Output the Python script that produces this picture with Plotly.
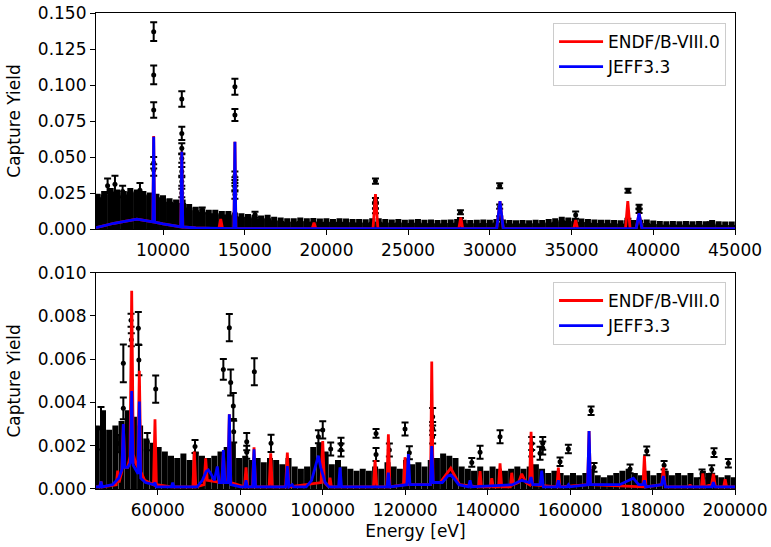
import plotly.graph_objects as go

# ---------------- TOP PANEL (5.9 keV - 45 keV) ----------------
# dense low-statistics data (yield, uncertainty)
top_bg_E = [6000, 6400, 6800, 7200, 7600, 8000, 8400, 8800, 9200, 9600,
            10000, 10400, 10800, 11200, 11600, 12000, 12400, 12800, 13200, 13600,
            14000, 14400, 14800, 15200, 15600, 16000, 16400, 16800, 17200, 17600,
            18000, 18400, 18800, 19200, 19600, 20000, 20400, 20800, 21200, 21600,
            22000, 22400, 22800, 23200, 23600, 24000, 24400, 24800, 25200, 25600,
            26000, 26400, 26800, 27200, 27600, 28000, 28400, 28800, 29200, 29600,
            30000, 30400, 30800, 31200, 31600, 32000, 32400, 32800, 33200, 33600,
            34000, 34400, 34800, 35200, 35600, 36000, 36400, 36800, 37200, 37600,
            38000, 38400, 38800, 39200, 39600, 40000, 40400, 40800, 41200, 41600,
            42000, 42400, 42800, 43200, 43600, 44000, 44400, 44800]
top_bg_Y = [0.011, 0.012, 0.013, 0.0125, 0.012, 0.013, 0.0125, 0.012, 0.0115, 0.011,
            0.0105, 0.0095, 0.009, 0.009, 0.0075, 0.0065, 0.006, 0.0055, 0.0055, 0.005,
            0.005, 0.0045, 0.00425, 0.004, 0.00375, 0.0035, 0.00375, 0.003, 0.00275, 0.0025,
            0.0025, 0.00275, 0.0025, 0.0026, 0.0024, 0.0025, 0.00225, 0.0025, 0.0024, 0.00225,
            0.0023, 0.0022, 0.0025, 0.0025, 0.00225, 0.0021, 0.00225, 0.002, 0.0021, 0.00225,
            0.002, 0.0021, 0.0019, 0.002, 0.0021, 0.00225, 0.002, 0.0019, 0.002, 0.0021,
            0.002, 0.00225, 0.0021, 0.0019, 0.0018, 0.0019, 0.0018, 0.002, 0.0019, 0.00225,
            0.0025, 0.003, 0.00275, 0.0025, 0.0024, 0.00225, 0.0021, 0.002, 0.002, 0.0019,
            0.0018, 0.002, 0.0019, 0.002, 0.0021, 0.00175, 0.0016, 0.0015, 0.0016, 0.0015,
            0.00155, 0.0015, 0.0016, 0.0015, 0.0019, 0.0015, 0.0014, 0.0014]
top_bg_err = [0.011, 0.012, 0.013, 0.0125, 0.012, 0.013, 0.0125, 0.012, 0.0115, 0.011,
              0.0105, 0.0095, 0.009, 0.009, 0.0075, 0.0065, 0.006, 0.0055, 0.0055, 0.005,
              0.005, 0.0045, 0.00425, 0.004, 0.00375, 0.0035, 0.00375, 0.003, 0.00275, 0.0025,
              0.0025, 0.00275, 0.0025, 0.0026, 0.0024, 0.0025, 0.00225, 0.0025, 0.0024, 0.00225,
              0.0023, 0.0022, 0.0025, 0.0025, 0.00225, 0.0021, 0.00225, 0.002, 0.0021, 0.00225,
              0.002, 0.0021, 0.0019, 0.002, 0.0021, 0.00225, 0.002, 0.0019, 0.002, 0.0021,
              0.002, 0.00225, 0.0021, 0.0019, 0.0018, 0.0019, 0.0018, 0.002, 0.0019, 0.00225,
              0.0025, 0.003, 0.00275, 0.0025, 0.0024, 0.00225, 0.0021, 0.002, 0.002, 0.0019,
              0.0018, 0.002, 0.0019, 0.002, 0.0021, 0.00175, 0.0016, 0.0015, 0.0016, 0.0015,
              0.00155, 0.0015, 0.0016, 0.0015, 0.0019, 0.0015, 0.0014, 0.0014]

# resolved data points
top_pt_E = [6610, 7060, 7530, 8590, 12400, 15630,
            9430, 9430, 9430, 9430, 9430,
            11150, 11150, 11150, 11150, 11150, 11150, 11150,
            14400, 14400, 14400, 14400, 14400, 14400,
            23000, 23000, 23000, 23000,
            28200, 28200, 30600, 30600, 30600, 35250,
            38450, 38450, 39130, 39130, 43480]
top_pt_Y = [0.030, 0.031, 0.026, 0.027, 0.013, 0.010,
            0.137, 0.107, 0.0826, 0.046, 0.041,
            0.0903, 0.0664, 0.056, 0.049, 0.040, 0.033, 0.025,
            0.0988, 0.0792, 0.037, 0.033, 0.029, 0.024,
            0.0333, 0.020, 0.016, 0.0125,
            0.0116, 0.0065, 0.030, 0.0155, 0.0075, 0.0097,
            0.0266, 0.0060, 0.0155, 0.0125, 0.0035]
top_pt_err = [0.005, 0.006, 0.004, 0.005, 0.002, 0.002,
              0.0065, 0.0065, 0.0054, 0.004, 0.004,
              0.0054, 0.0046, 0.0035, 0.003, 0.003, 0.003, 0.003,
              0.0055, 0.0042, 0.003, 0.003, 0.003, 0.003,
              0.0018, 0.0015, 0.0015, 0.0015,
              0.0014, 0.0012, 0.0017, 0.0015, 0.0013, 0.0025,
              0.0014, 0.0012, 0.0013, 0.0013, 0.0012]

# evaluations
jeff_hi_E = [5900, 7000, 8400, 9300, 9380, 9430, 9480, 10000, 11000, 11090, 11150, 11210,
             12000, 13000, 14340, 14400, 14460, 20000, 30420, 30620, 30820,
             38950, 39130, 39310, 45000]
jeff_hi_Y = [0.0010, 0.0040, 0.0068, 0.0052, 0.0050, 0.0640, 0.0048, 0.0035, 0.0016, 0.0015, 0.0537, 0.0014,
             0.0007, 0.0004, 0.0003, 0.0606, 0.0003, 0.0002, 0.0002, 0.0194, 0.0002,
             0.0002, 0.0109, 0.0002, 0.0002]
endf_hi_E = [5900, 7000, 8400, 9300, 9380, 9430, 9480, 10000, 11000, 11090, 11150, 11210,
             12000, 13000, 13420, 13530, 13640, 14340, 14400, 14460, 19130, 19240, 19350,
             22850, 23000, 23150, 28100, 28220, 28340, 30420, 30620, 30820,
             35130, 35250, 35370, 38300, 38440, 38580, 38950, 39130, 39310, 45000]
endf_hi_Y = [0.0010, 0.0040, 0.0068, 0.0052, 0.0050, 0.0645, 0.0048, 0.0035, 0.0016, 0.0015, 0.0537, 0.0014,
             0.0007, 0.0004, 0.0003, 0.0070, 0.0003, 0.0003, 0.0606, 0.0003, 0.0002, 0.0045, 0.0002,
             0.0002, 0.0243, 0.0002, 0.0002, 0.0080, 0.0002, 0.0002, 0.0194, 0.0002,
             0.0002, 0.0062, 0.0002, 0.0002, 0.0194, 0.0002, 0.0002, 0.0109, 0.0002, 0.0002]

# ---------------- BOTTOM PANEL (45 keV - 200 keV) ----------------
low_bg_E = [45200, 46700, 48200, 49700, 51200, 52700, 54200, 55700, 57200, 58700,
            60200, 61700, 63200, 64700, 66200, 67700, 69200, 70700, 72200, 73700,
            75200, 76700, 78200, 79700, 81200, 82700, 84200, 85700, 87200, 88700,
            90200, 91700, 93200, 94700, 96200, 97700, 99200, 100700, 102200, 103700,
            105200, 106700, 108200, 109700, 111200, 112700, 114200, 115700, 117200, 118700,
            120200, 121700, 123200, 124700, 126200, 127700, 129200, 130700, 132200, 133700,
            135200, 136700, 138200, 139700, 141200, 142700, 144200, 145700, 147200, 148700,
            150200, 151700, 153200, 154700, 156200, 157700, 159200, 160700, 162200, 163700,
            165200, 166700, 168200, 169700, 171200, 172700, 174200, 175700, 177200, 178700,
            180200, 181700, 183200, 184700, 186200, 187700, 189200, 190700, 192200, 193700,
            195200, 196700, 198200, 199700]
low_bg_Y = [0.0014, 0.00175, 0.0013, 0.0014, 0.0015, 0.00175, 0.0016, 0.0014, 0.0011, 0.001,
            0.0009, 0.0008, 0.0007, 0.00065, 0.00075, 0.0006, 0.0008, 0.0007, 0.00065, 0.0007,
            0.0008, 0.0009, 0.001, 0.00065, 0.0007, 0.0006, 0.00065, 0.00055, 0.00065, 0.0006,
            0.0005, 0.00065, 0.00045, 0.0004, 0.00045, 0.0009, 0.001, 0.0008, 0.0005, 0.0006,
            0.00045, 0.0004, 0.00035, 0.0004, 0.00035, 0.00045, 0.0004, 0.00055, 0.00045, 0.0004,
            0.0006, 0.0005, 0.00055, 0.00045, 0.0006, 0.00065, 0.00075, 0.0007, 0.00065, 0.00045,
            0.0004, 0.00035, 0.00045, 0.00035, 0.00045, 0.0004, 0.00035, 0.0004, 0.00045, 0.0004,
            0.00045, 0.0005, 0.0004, 0.0003, 0.00035, 0.0003, 0.00025, 0.0003, 0.00025, 0.0003,
            0.0004, 0.00025, 0.0002, 0.00025, 0.0003, 0.00035, 0.0004, 0.0003, 0.00025, 0.00035,
            0.00025, 0.0003, 0.00035, 0.00025, 0.0003, 0.00025, 0.0003, 0.0002, 0.00035, 0.0003,
            0.00025, 0.0002, 0.00025, 0.0002]
low_bg_err = [0.0014, 0.00175, 0.0013, 0.0014, 0.0015, 0.00175, 0.0016, 0.0014, 0.0011, 0.001,
              0.0009, 0.0008, 0.0007, 0.00065, 0.00075, 0.0006, 0.0008, 0.0007, 0.00065, 0.0007,
              0.0008, 0.0009, 0.001, 0.00065, 0.0007, 0.0006, 0.00065, 0.00055, 0.00065, 0.0006,
              0.0005, 0.00065, 0.00045, 0.0004, 0.00045, 0.0009, 0.001, 0.0008, 0.0005, 0.0006,
              0.00045, 0.0004, 0.00035, 0.0004, 0.00035, 0.00045, 0.0004, 0.00055, 0.00045, 0.0004,
              0.0006, 0.0005, 0.00055, 0.00045, 0.0006, 0.00065, 0.00075, 0.0007, 0.00065, 0.00045,
              0.0004, 0.00035, 0.00045, 0.00035, 0.00045, 0.0004, 0.00035, 0.0004, 0.00045, 0.0004,
              0.00045, 0.0005, 0.0004, 0.0003, 0.00035, 0.0003, 0.00025, 0.0003, 0.00025, 0.0003,
              0.0004, 0.00025, 0.0002, 0.00025, 0.0003, 0.00035, 0.0004, 0.0003, 0.00025, 0.00035,
              0.00025, 0.0003, 0.00035, 0.00025, 0.0003, 0.00025, 0.0003, 0.0002, 0.00035, 0.0003,
              0.00025, 0.0002, 0.00025, 0.0002]

low_pt_E = [46210, 51630, 51630, 53500, 53560, 55270, 55400, 59480, 57450, 50300,
            69020, 75890, 77340, 77670, 78310, 78400, 83410, 81560, 81560, 87460,
            98950, 100000, 101930, 104430, 104430, 112930, 112930, 116160, 119960, 121010,
            126660, 126660, 126660, 136150, 138160, 143010, 150690, 150690, 152710, 153360,
            153360, 157560, 159580, 165090, 165810, 174550, 178590, 182800, 194350, 194910,
            198390, 192000]
low_pt_Y = [0.00281, 0.00581, 0.00373, 0.0078, 0.0069, 0.00743, 0.00596, 0.00462, 0.00219, 0.0021,
            0.00196, 0.00553, 0.00746, 0.00492, 0.00384, 0.00265, 0.00542, 0.00219, 0.0017, 0.00211,
            0.00242, 0.00273, 0.00185, 0.00207, 0.0018, 0.00257, 0.0016, 0.0018, 0.00277, 0.00168,
            0.00334, 0.0028, 0.0024, 0.00123, 0.0017, 0.00242, 0.0021, 0.0018, 0.00165, 0.00211,
            0.0019, 0.00126, 0.00185, 0.00362, 0.0010, 0.00093, 0.00176, 0.0011, 0.0009, 0.00168,
            0.00119, 0.0007]
low_pt_err = [0.00098, 0.00087, 0.0005, 0.0003, 0.0003, 0.00075, 0.0007, 0.00063, 0.0004, 0.0004,
              0.0003, 0.00048, 0.00063, 0.0006, 0.0006, 0.0005, 0.00062, 0.0004, 0.0003, 0.0004,
              0.0003, 0.0004, 0.0003, 0.0003, 0.0003, 0.0002, 0.0003, 0.0003, 0.0003, 0.0003,
              0.0004, 0.0003, 0.0003, 0.0002, 0.0003, 0.0003, 0.0003, 0.0003, 0.0003, 0.0003,
              0.0003, 0.0002, 0.0002, 0.0002, 0.0002, 0.0002, 0.0002, 0.0002, 0.0002, 0.0002,
              0.0002, 0.0002]

jeff_lo_E = [45000, 45900, 46210, 46500, 49000, 50500, 51300, 51630, 51950,
             52700, 53300, 53660, 54000, 54800, 55200, 55510, 55850, 57000, 59000, 59310, 59600,
             63300, 63600, 63900, 69500, 70800, 71700, 72250, 72900, 73700, 74430, 74900,
             75550, 75890, 76250, 77000, 77340, 77700, 80000, 81100, 81390, 81700,
             83000, 83330, 83700, 91050, 91410, 91800, 92600, 92900, 96000, 97300, 98400,
             98940, 99500, 100600, 101500, 103850, 104190, 104550, 115600, 115920, 116250,
             120400, 120770, 121150, 126100, 126440, 126800, 129000, 130300, 131050, 131800,
             133000, 135350, 135730, 136100, 146000, 148270, 150100, 150530, 150950,
             152750, 153120, 153500, 156800, 157150, 157500, 159250, 159600, 159950,
             164250, 164600, 164950, 172000, 174300, 175350, 176600, 177700, 178020, 178350,
             182200, 182630, 183100, 194400, 194760, 195100, 200000]
jeff_lo_Y = [0.0001, 0.0001, 0.00034, 0.0001, 0.0002, 0.0005, 0.0009, 0.0030, 0.0010,
             0.0010, 0.0012, 0.00453, 0.0011, 0.0008, 0.0007, 0.00404, 0.0005, 0.0003, 0.0002, 0.0003, 0.0001,
             0.0001, 0.0003, 0.0001, 0.0001, 0.0004, 0.0008, 0.00088, 0.0007, 0.0004, 0.00104, 0.0003,
             0.0003, 0.0018, 0.0003, 0.0003, 0.00345, 0.0002, 0.0001, 0.0001, 0.0004, 0.0001,
             0.0001, 0.00183, 0.0001, 0.0001, 0.00106, 0.0001, 0.0002, 0.0001, 0.0001, 0.0004, 0.0011,
             0.00154, 0.0010, 0.0003, 0.0001, 0.0001, 0.0010, 0.0001, 0.0001, 0.00076, 0.0001,
             0.0002, 0.00162, 0.0002, 0.0002, 0.00199, 0.0003, 0.0003, 0.0006, 0.00065, 0.0005,
             0.0002, 0.0001, 0.0004, 0.0001, 0.0002, 0.0004, 0.0003, 0.00055, 0.0002,
             0.0002, 0.00085, 0.0001, 0.0001, 0.0004, 0.0001, 0.0001, 0.0002, 0.0001,
             0.0002, 0.00268, 0.0002, 0.0002, 0.0004, 0.0005, 0.0002, 0.0002, 0.0004, 0.0001,
             0.0002, 0.0006, 0.0001, 0.0001, 0.00032, 0.0001, 0.0001]

endf_lo_E = [45000, 45900, 46210, 46500, 49900, 50260, 50600, 51250, 51630, 52000,
             52700, 53250, 53660, 54050, 54600, 55150, 55510, 55900, 56800, 58950, 59310, 59650,
             63300, 68500, 68850, 69200, 71200, 71600, 72000, 75500, 75890, 76300,
             77000, 77340, 77700, 81000, 81390, 81750, 82950, 83330, 83700, 87000, 87380, 87750,
             91000, 91410, 91800, 99600, 100000, 100400, 101400, 101770, 102100,
             112300, 112690, 113100, 115550, 115920, 116300, 119600, 119960, 120350,
             126150, 126440, 126750, 128500, 131050, 133200, 137800, 138160, 138500,
             140650, 141000, 141350, 142650, 143010, 143400, 145500, 145840, 146200,
             147500, 148270, 149300, 150150, 150530, 150900, 156800, 157150, 157500,
             164250, 164600, 164950, 177650, 178020, 178400, 182200, 182630, 183100,
             188800, 189100, 189400, 191850, 192190, 192550, 194300, 194760, 195250,
             197250, 197600, 197950, 200000]
endf_lo_Y = [0.0001, 0.0001, 0.00034, 0.0001, 0.0002, 0.00085, 0.0003, 0.0008, 0.0030, 0.0010,
             0.0010, 0.0015, 0.00917, 0.0016, 0.0012, 0.0010, 0.00547, 0.0008, 0.0004, 0.0002, 0.00322, 0.0002,
             0.0001, 0.0001, 0.00173, 0.0001, 0.0002, 0.00142, 0.0004, 0.0003, 0.0017, 0.0003,
             0.0003, 0.00345, 0.0003, 0.0001, 0.0010, 0.0001, 0.0001, 0.00193, 0.0001, 0.0001, 0.00165, 0.0001,
             0.0001, 0.00168, 0.0001, 0.0003, 0.00222, 0.0003, 0.0001, 0.00052, 0.0001,
             0.0001, 0.00134, 0.0001, 0.0001, 0.00253, 0.0001, 0.0002, 0.00147, 0.0002,
             0.0002, 0.00589, 0.0003, 0.0003, 0.00096, 0.0002, 0.0001, 0.00083, 0.0001,
             0.0001, 0.0005, 0.0001, 0.0001, 0.00119, 0.0001, 0.0001, 0.00075, 0.0002,
             0.0003, 0.0007, 0.0003, 0.0002, 0.00265, 0.0002, 0.0001, 0.00099, 0.0001,
             0.0002, 0.00268, 0.0002, 0.0001, 0.00153, 0.0001, 0.0002, 0.0010, 0.0001,
             0.0001, 0.0002, 0.0001, 0.0001, 0.00072, 0.0001, 0.0002, 0.0007, 0.0001,
             0.0001, 0.00045, 0.0001, 0.0001]

FONT = "DejaVu Sans"
FS = 17
fig = go.Figure()

def add_panel(xa, ya, bgE, bgY, bgErr, ptE, ptY, ptErr, eE, eY, jE, jY, leg, thick):
    fig.add_trace(go.Scatter(x=bgE, y=bgY, mode="markers", xaxis=xa, yaxis=ya,
                             marker=dict(color="black", size=4),
                             error_y=dict(type="data", array=bgErr, visible=True,
                                          color="black", thickness=thick, width=3),
                             showlegend=False, hoverinfo="skip"))
    fig.add_trace(go.Scatter(x=ptE, y=ptY, mode="markers", xaxis=xa, yaxis=ya,
                             marker=dict(color="black", size=5),
                             error_y=dict(type="data", array=ptErr, visible=True,
                                          color="black", thickness=2, width=3.5),
                             showlegend=False))
    fig.add_trace(go.Scatter(x=eE, y=eY, mode="lines", xaxis=xa, yaxis=ya,
                             line=dict(color="#ff0000", width=2.8),
                             name="ENDF/B-VIII.0", legend=leg, legendgroup=leg + "a"))
    fig.add_trace(go.Scatter(x=jE, y=jY, mode="lines", xaxis=xa, yaxis=ya,
                             line=dict(color="#0000ff", width=2.8),
                             name="JEFF3.3", legend=leg, legendgroup=leg + "b"))

add_panel("x", "y", top_bg_E, top_bg_Y, top_bg_err, top_pt_E, top_pt_Y, top_pt_err,
          endf_hi_E, endf_hi_Y, jeff_hi_E, jeff_hi_Y, "legend", 7)
add_panel("x2", "y2", low_bg_E, low_bg_Y, low_bg_err, low_pt_E, low_pt_Y, low_pt_err,
          endf_lo_E, endf_lo_Y, jeff_lo_E, jeff_lo_Y, "legend2", 6)

axis_common = dict(showline=True, linecolor="black", linewidth=1.2, mirror=True,
                   ticks="outside", ticklen=5, tickwidth=1.2, tickcolor="black",
                   showgrid=False, zeroline=False, automargin=False,
                   tickfont=dict(family=FONT, size=FS, color="black"))

legend_common = dict(xanchor="right", yanchor="top", bgcolor="white",
                     bordercolor="#cccccc", borderwidth=1, tracegroupgap=0,
                     itemwidth=44, entrywidth=128, entrywidthmode="pixels",
                     font=dict(family=FONT, size=FS, color="black"))

fig.update_layout(
    width=771, height=547,
    margin=dict(l=96, r=36, t=13, b=58),
    paper_bgcolor="white", plot_bgcolor="white",
    font=dict(family=FONT, size=FS, color="black"),
    xaxis=dict(axis_common, domain=[0, 1], anchor="y", range=[5900, 45000],
               tickvals=[10000, 15000, 20000, 25000, 30000, 35000, 40000, 45000],
               tickformat="d"),
    yaxis=dict(axis_common, domain=[0.5462, 1], anchor="x", range=[0, 0.15],
               tickvals=[0, 0.025, 0.05, 0.075, 0.1, 0.125, 0.15], tickformat=".3f",
               title=dict(text="Capture Yield", standoff=12,
                          font=dict(family=FONT, size=FS))),
    xaxis2=dict(axis_common, domain=[0, 1], anchor="y2", range=[45000, 200000],
                tickvals=[60000, 80000, 100000, 120000, 140000, 160000, 180000, 200000],
                tickformat="d",
                title=dict(text="Energy [eV]", standoff=6,
                           font=dict(family=FONT, size=FS))),
    yaxis2=dict(axis_common, domain=[0, 0.4544], anchor="x2", range=[0, 0.010],
                tickvals=[0, 0.002, 0.004, 0.006, 0.008, 0.010], tickformat=".3f",
                title=dict(text="Capture Yield", standoff=12,
                           font=dict(family=FONT, size=FS))),
    legend=dict(legend_common, x=0.986, y=0.979),
    legend2=dict(legend_common, x=0.986, y=0.435),
)

fig.write_html("out.html", config={"displayModeBar": False},
               post_script="document.body.style.margin='0';")
